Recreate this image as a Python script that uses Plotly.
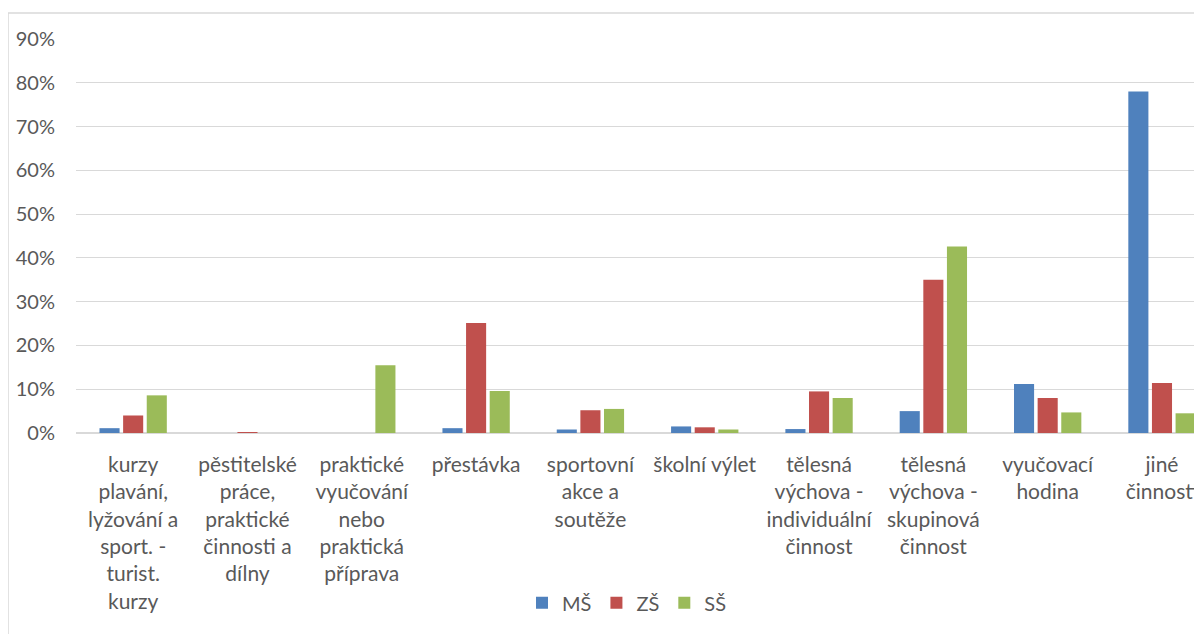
import plotly.graph_objects as go

categories = [
    "kurzy<br>plavání,<br>lyžování a<br>sport. -<br>turist.<br>kurzy",
    "pěstitelské<br>práce,<br>praktické<br>činnosti a<br>dílny",
    "praktické<br>vyučování<br>nebo<br>praktická<br>příprava",
    "přestávka",
    "sportovní<br>akce a<br>soutěže",
    "školní výlet",
    "tělesná<br>výchova -<br>individuální<br>činnost",
    "tělesná<br>výchova -<br>skupinová<br>činnost",
    "vyučovací<br>hodina",
    "jiné<br>činnosti",
]
ms = [0.011, 0.0, 0.0, 0.011, 0.008, 0.015, 0.009, 0.050, 0.112, 0.780]
zs = [0.040, 0.001, 0.0, 0.251, 0.052, 0.013, 0.095, 0.350, 0.080, 0.114]
ss = [0.086, 0.0, 0.155, 0.096, 0.055, 0.008, 0.080, 0.426, 0.047, 0.045]

series = [("MŠ", ms, "#4F81BD"), ("ZŠ", zs, "#C0504D"), ("SŠ", ss, "#9BBB59")]
x = list(range(len(categories)))

fig = go.Figure()
for name, vals, col in series:
    fig.add_trace(go.Bar(x=x, y=vals, name=name, marker_color=col,
                         marker_line_width=0))

font = "Lato, Carlito, Calibri, sans-serif"
W, H = 1194, 626
L, T, B = 68, 31, 201
fig.update_layout(
    width=W, height=H,
    margin=dict(l=L, r=0, t=T, b=B, autoexpand=False),
    paper_bgcolor="white", plot_bgcolor="white",
    barmode="group", bargap=0.38, bargroupgap=0.15,
    font=dict(family=font, size=20, color="#595959"),
    showlegend=True,
    legend=dict(orientation="h", x=(619 - L) / (W - L), xanchor="center",
                y=-0.431, yanchor="middle",
                font=dict(size=20, color="#595959"), itemwidth=30,
                traceorder="normal"),
)
fig.update_xaxes(tickmode="array", tickvals=x, ticktext=categories,
                 range=[-0.5, 9.35], showgrid=False, zeroline=False,
                 showline=False, ticks="", tickangle=0, automargin=False,
                 ticklabelstandoff=17,
                 tickfont=dict(size=21, color="#595959"))
fig.update_yaxes(range=[0, 0.9], dtick=0.1, tickformat=".0%",
                 showgrid=True, gridcolor="#D9D9D9", gridwidth=1,
                 zeroline=True, zerolinecolor="#D9D9D9", zerolinewidth=2,
                 showline=False, ticks="", ticklabelstandoff=20, automargin=False,
                 tickfont=dict(size=20, color="#595959"))
fig.add_shape(type="rect", xref="paper", yref="paper",
              x0=-L / (W - L), x1=1.02, y0=-0.6, y1=1 + 26 / 394,
              line=dict(color="#D9D9D9", width=1.5), fillcolor="rgba(0,0,0,0)",
              layer="below")
fig.write_html("out.html")
